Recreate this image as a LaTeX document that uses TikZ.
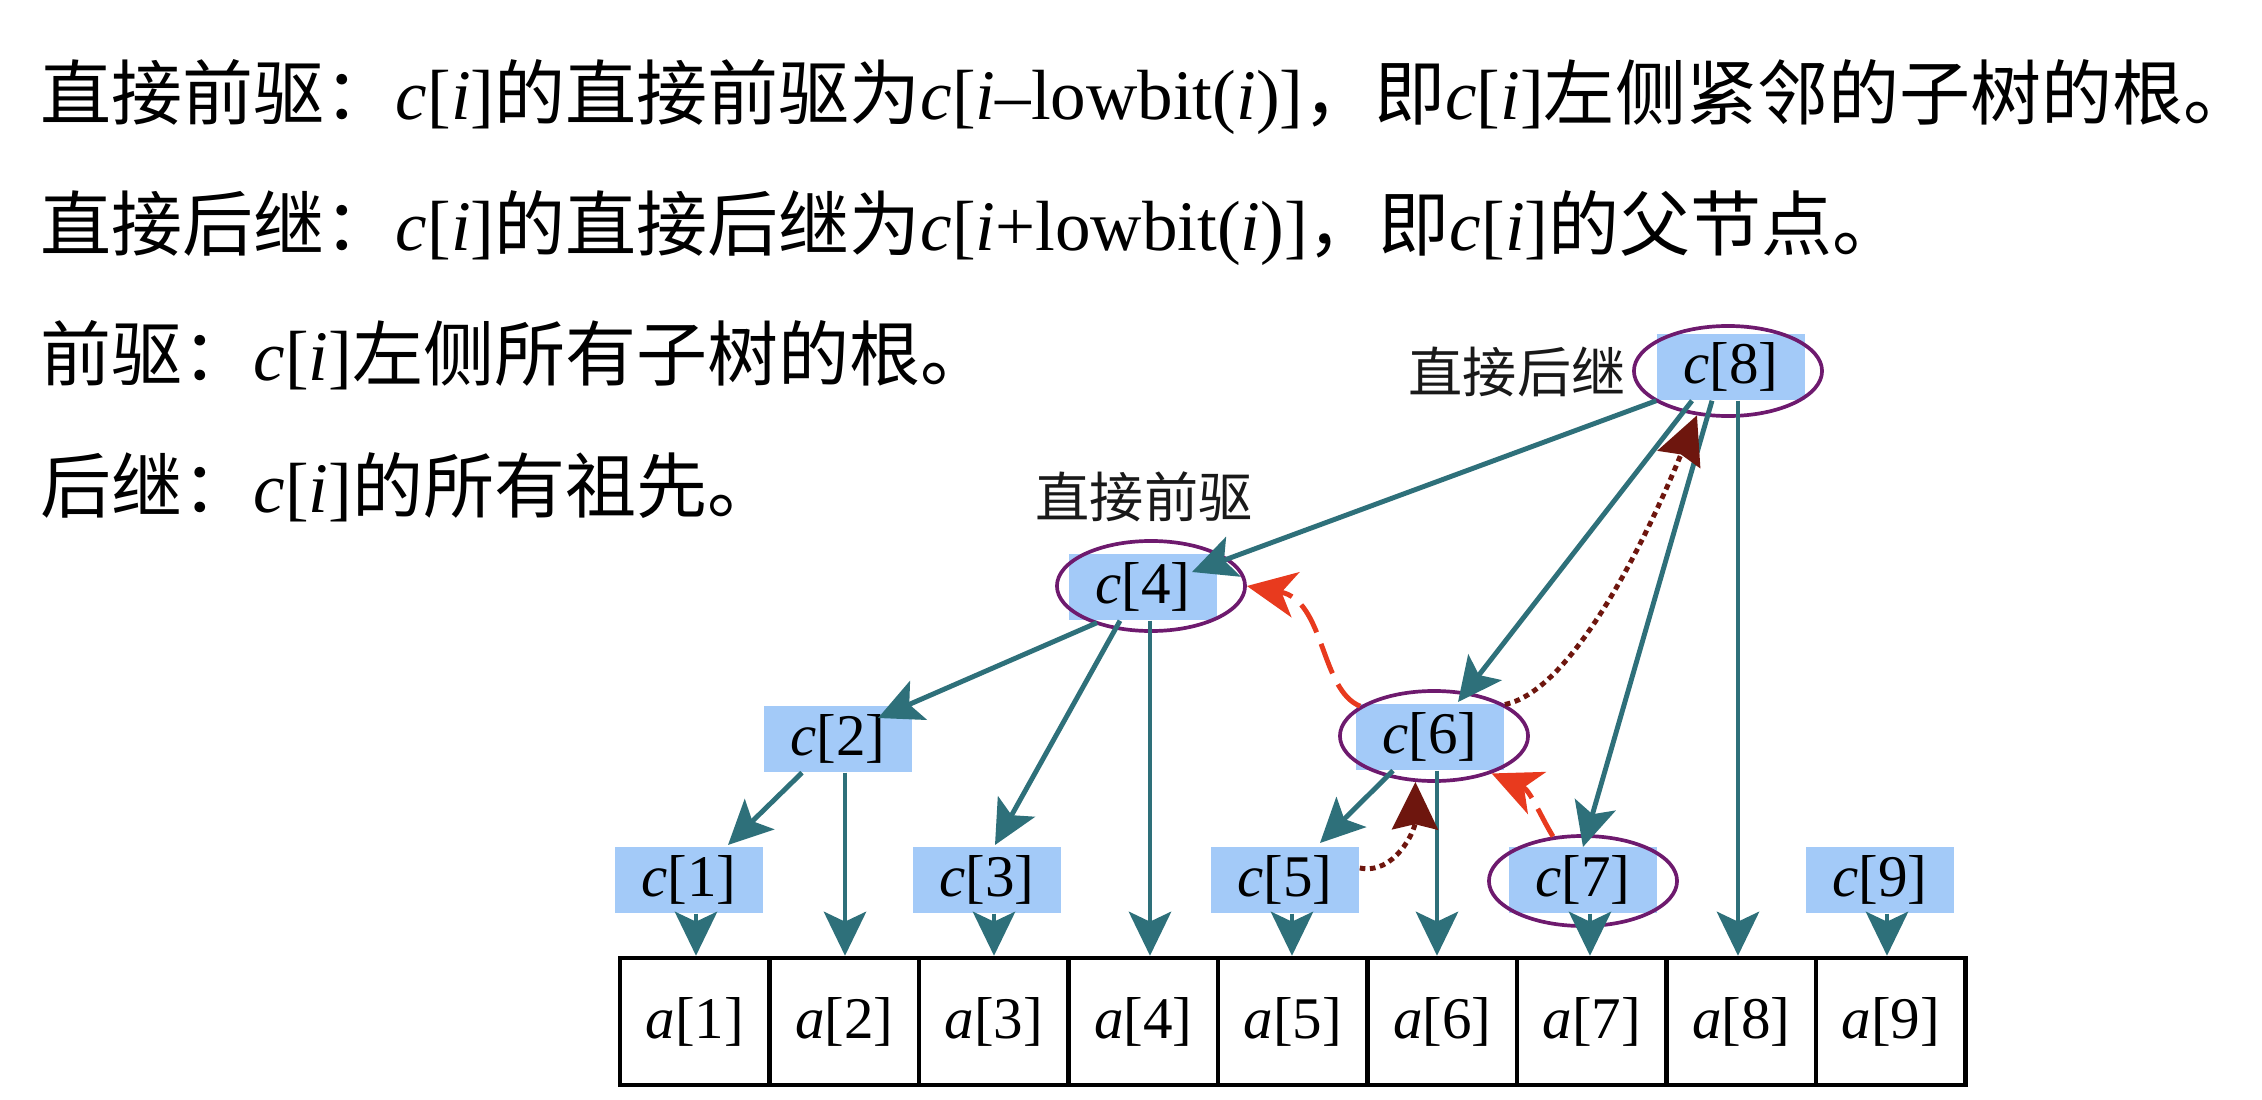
\documentclass[tikz,border=0pt]{standalone}
\usepackage{fontspec}
\setmainfont{Liberation Serif}
\newfontfamily\cjk{Noto Sans CJK SC}
\usetikzlibrary{arrows.meta,calc,shapes.geometric}
\definecolor{teal1}{RGB}{46,112,122}
\definecolor{boxblue}{RGB}{163,202,248}
\definecolor{ringpurple}{RGB}{110,26,110}
\definecolor{redline}{RGB}{232,58,30}
\definecolor{darkred}{RGB}{110,22,14}
\newcommand\zh[1]{{\cjk #1}}
\newcommand\myci{\textit{c}[\textit{i}]}
\begin{document}
\begin{tikzpicture}[x=0.01cm,y=-0.01cm,
  cbox/.style={rectangle, fill=boxblue, minimum width=1.48cm, minimum height=0.66cm, inner sep=0pt, font=\fontsize{16.8}{18}\selectfont},
  ring/.style={ellipse, draw=ringpurple, line width=1.05pt, minimum width=1.88cm, minimum height=0.90cm, inner sep=0pt},
  cell/.style={rectangle, draw=black, line width=1.25pt, minimum width=1.495cm, minimum height=1.27cm, inner sep=0pt, font=\fontsize{16.8}{18}\selectfont},
  tree/.style={draw=teal1, line width=1.4pt, -{Stealth[length=12.5pt,width=12pt,inset=2.8pt]}},
  pred/.style={draw=redline, line width=1.4pt, dash pattern=on 9pt off 3.5pt, -{Stealth[length=14pt,width=13pt,inset=4pt]}},
  succ/.style={draw=darkred, line width=1.4pt, dash pattern=on 1.6pt off 1.3pt, -{Stealth[length=13.5pt,width=13pt,inset=1.5pt]}},
  lbl/.style={font=\fontsize{15.4}{17}\selectfont\cjk, inner sep=0pt, text=black!90},
  txt/.style={font=\fontsize{20.2}{24}\selectfont, inner sep=0pt, anchor=base west}]
\fill[white] (0,0) rectangle (2262,1100);
\useasboundingbox (0,0) rectangle (2262,1100);

% text lines
\node[txt] (t1) at (40,119) {\zh{直接前驱：}\myci\zh{的直接前驱为}\textit{c}[\textit{i}–lowbit(\textit{i})]\zh{，即}\myci\zh{左侧紧邻的子树的根。}\kern-0.6em};
\node[txt] (t2) at (40,250) {\zh{直接后继：}\myci\zh{的直接后继为}\textit{c}[\textit{i}+lowbit(\textit{i})]\zh{，即}\myci\zh{的父节点。}\kern-0.6em};
\node[txt] (t3) at (40,380) {\zh{前驱：}\myci\zh{左侧所有子树的根。}\kern-0.6em};
\node[txt] (t4) at (40,512) {\zh{后继：}\myci\zh{的所有祖先。}\kern-0.6em};

% array
\foreach \i in {1,...,9}
  \node[cell] (a\i) at ({620+149.5*(\i-0.5)},1021.5) {\textit{a}[\i]};

% c boxes
\node[cbox] (c1) at (689,880) {\textit{c}[1]};
\node[cbox] (c2) at (838,739) {\textit{c}[2]};
\node[cbox] (c3) at (987,880) {\textit{c}[3]};
\node[cbox] (c4) at (1143,587) {\textit{c}[4]};
\node[cbox] (c5) at (1285,880) {\textit{c}[5]};
\node[cbox] (c6) at (1430,737) {\textit{c}[6]};
\node[cbox] (c7) at (1583,880) {\textit{c}[7]};
\node[cbox] (c8) at (1731,367) {\textit{c}[8]};
\node[cbox] (c9) at (1880,880) {\textit{c}[9]};

% rings
\node[ring] (e4) at ($(c4)+(8,-1)$) {};
\node[ring] (e6) at ($(c6)+(4,-1)$) {};
\node[ring] (e7) at ($(c7)+(0,1)$) {};
\node[ring] (e8) at ($(c8)+(-3,4)$) {};

% labels
\node[lbl] (l4) at ($(c4)+(1,-90)$) {直接前驱};
\node[lbl, anchor=east] (l8) at ($(e8.west)+(-6,1)$) {直接后继};

% tree edges
\draw[tree] (c8.south west) -- ($(c4)+(49,-15)$);
\draw[tree] ($(c8.south)+(-39,0)$) -- ($(c6)+(28,-35)$);
\draw[tree] ($(c8.south)+(-19,0)$) -- ($(c7)+(0,-33)$);
\draw[tree] ($(c4.south)+(-46,2)$) -- ($(c2)+(40,-21)$);
\draw[tree] ($(c4.south)+(-23,0)$) -- ($(c3)+(8,-35)$);
\draw[tree] ($(c2.south)+(-36,0)$) -- ($(c1)+(39,-35)$);
\draw[tree] ($(c6.south)+(-37,0)$) -- ($(c5)+(35,-37)$);
\foreach \i in {1,...,9}
  \draw[tree] ($(c\i.south)+(7,0)$) coordinate (s\i) -- (s\i |- a\i.north);

% predecessor / successor arrows
\draw[pred] (e6.158) .. controls (1320,690) and (1325,600) .. (e4.east);
\draw[pred] (e7.124) .. controls (1540,815) and (1530,790) .. (e6.-33);
\draw[succ] ($(c5.east)+(0,-12)$) .. controls (1395,875) and (1415,830) .. (e6.248);
\draw[succ] (e6.24) .. controls (1575,690) and (1650,530) .. (e8.235);
\end{tikzpicture}
\end{document}
